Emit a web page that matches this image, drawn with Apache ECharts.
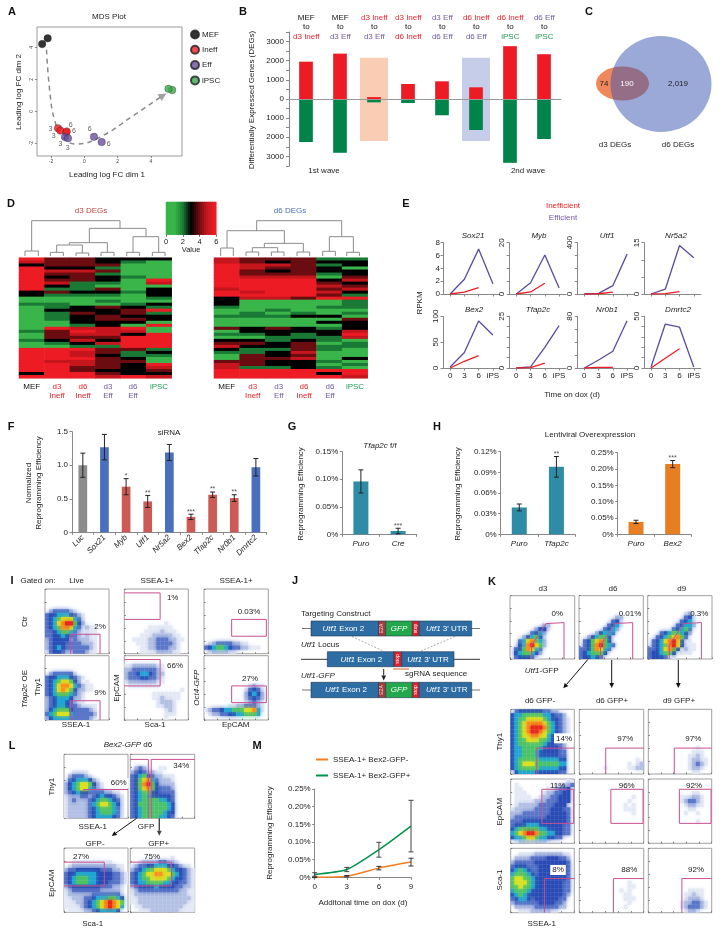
<!DOCTYPE html>
<html>
<head>
<meta charset="utf-8">
<title>Reprogramming figure</title>
<script src="https://cdn.jsdelivr.net/npm/echarts@6/dist/echarts.min.js"></script>
<style>html,body{margin:0;background:#fff}#main{width:721px;height:935px}</style>
</head>
<body>
<div id="main"></div>
<script>
// ---- A: MDS plot
var mdsMef = [[-2.53,4.2],[-2.2,4.56]];
var mdsIneff = [[-1.58,-1.07],[-1.44,-1.21],[-1.08,-1.32],[-1.06,-1.26]];
var mdsEff = [[-1.16,-1.61],[-0.98,-1.69],[0.58,-1.6],[1.04,-1.93]];
var mdsIpsc = [[5.27,1.33],[5.05,1.4]];
var mdsDayLabels = [[-2.04,-1.09,'3'],[-1.84,-1.55,'3'],[-1.44,-2.05,'3'],[-1.0,-2.32,'3'],[-0.82,-0.88,'6'],[-0.62,-1.25,'6'],[0.32,-1.11,'6'],[1.46,-2.05,'6']];
var mdsPath = [[-2.27,3.85],[-2.08,1.32],[-1.78,-0.56],[-1.24,-1.67],[-0.48,-2.05],[0.96,-1.61],[2.95,-0.26],[4.6,0.9]];

// ---- B: DEG counts
var degUp = [1950,2370,100,785,925,610,2760,2340];
var degDown = [-2250,-2810,-175,-210,-850,-1620,-3335,-2090];
var degHeadTop = ['MEF','MEF','d3 Ineff','d3 Ineff','d3 Eff','d6 Ineff','d6 Ineff','d6 Eff'];
var degHeadBottom = ['d3 Ineff','d3 Eff','d3 Eff','d6 Ineff','d6 Eff','d6 Eff','iPSC','iPSC'];
var degShadeUp = [null,null,2150,null,null,2150,null,null];
var degShadeDown = [null,null,-2190,null,null,-2190,null,null];

// ---- D: heat maps, one string per row, one digit (0-6) per sample
var heatSamplesLeft = ['MEF','d3 Ineff','d6 Ineff','d3 Eff','d6 Eff','iPSC'];
var heatSamplesRight = ['MEF','d3 Ineff','d3 Eff','d6 Ineff','d6 Eff','iPSC'];
var heatRowsLeft = ['644333','544321','344411','633211','655411','644211','634321','644316','652215','632111','622413','343323','322213','111112','111211','221123','123432','133346','124342','023433','023443','113331','112316','165561','246551','145536','144466','235366','123566','112266','666442','665423','665322','666431','655441','665436','664435','664334','366433','666565'];
var heatRowsRight = ['544422','543433','655423','654431','643433','644423','655514','666635','666643','666654','566645','656653','666642','355466','311112','311112','211122','112101','121212','222331','111114','011133','111113','434323','133335','223236','012225','332321','443412','533422','322421','223511','143411','144513','443321','543312','522321','666666','666636','666665'];
var colorbarValues = [0,0.25,0.5,0.75,1,1.25,1.5,1.75,2,2.25,2.5,2.75,3,3.25,3.5,3.75,4,4.25,4.5,4.75,5,5.25,5.5,5.75,6];
// dendrogram links, in units of the picture
var dendroLeft = [[[75,198],[75,183],[115,183],[115,198]],[[151,198],[151,187],[190,187],[190,198]],[[228,198],[228,189],[266,189],[266,198]],[[303,198],[303,187],[342,187],[342,198]],[[380,198],[380,187],[418,187],[418,198]],[[457,198],[457,187],[495,187],[495,198]],[[170,187],[170,165],[247,165],[247,189]],[[208,165],[208,158],[322,158],[322,187]],[[399,187],[399,140],[476,140],[476,187]],[[268,158],[268,115],[438,115],[438,140]],[[95,183],[95,92],[360,92],[360,115]]];
var dendroRight = [[[662,198],[662,174],[700,174],[700,198]],[[738,198],[738,186],[776,186],[776,198]],[[814,198],[814,186],[852,186],[852,198]],[[891,198],[891,186],[929,186],[929,198]],[[968,198],[968,184],[1006,184],[1006,198]],[[1040,198],[1040,187],[1078,187],[1078,198]],[[757,186],[757,173],[833,173],[833,186]],[[793,173],[793,160],[910,160],[910,186]],[[681,174],[681,122],[853,122],[853,160]],[[988,184],[988,140],[1060,140],[1060,187]],[[770,122],[770,92],[1025,92],[1025,140]]];

// ---- E: RPKM
var timeLabels = ['0','3','6','iPS'];
var geneNames = ['Sox21','Myb','Utf1','Nr5a2','Bex2','Tfap2c','Nr0b1','Dmrtc2'];
var geneMax = [8,20,400,15,100,25,80,50];
var geneStep = [2,5,100,5,50,5,20,10];
var geneShown = [[0,2,4,6,8],[0,20],[0,400],[0,15],[0,50,100],[0,25],[0,80],[0,50]];
var rpkmEff = [[0,2.3,7,1.6],[0,4.4,15.2,2.3],[0,5,65,311],[0,1.4,14.2,10.6],[2,30,91,64],[0,0.5,10,20.5],[0,12.4,26,73],[1,42.5,39.5,1]];
var rpkmIneff = [[0,0.3,1,null],[0,0.8,4.2,null],[0,2,15,null],[0,0.1,0.7,null],[0,13,24,null],[0,0.2,2.4,null],[0,1,1,null],[0,9.4,18.7,null]];

// ---- F, G, H: bars
var sirnaGenes = ['Luc','Sox21','Myb','Utf1','Nr5a2','Bex2','Tfap2c','Nr0b1','Dmrtc2'];
var sirnaValues = [1.0,1.27,0.68,0.46,1.19,0.23,0.56,0.51,0.97];
var sirnaErrors = [0.18,0.19,0.12,0.09,0.12,0.04,0.04,0.05,0.13];
var sirnaStars = ['','','*','**','','***','**','**',''];
var floxCats = ['Puro','Cre'];
var floxValues = [0.096,0.006];
var floxErrors = [0.021,0.005];
var floxStars = ['','***'];
var tfapCats = ['Puro','Tfap2c'];
var tfapValues = [0.039,0.098];
var tfapErrors = [0.005,0.015];
var tfapStars = ['','**'];
var bexCats = ['Puro','Bex2'];
var bexValues = [0.038,0.215];
var bexErrors = [0.005,0.011];
var bexStars = ['','***'];

// ---- M: time course
var doxDays = [0,3,6,9];
var bex2Neg = [0,0.003,0.026,0.043];
var bex2NegErr = [0.001,0.002,0.005,0.011];
var bex2Pos = [0.008,0.022,0.078,0.145];
var bex2PosErr = [0.005,0.006,0.021,0.073];

var flowCtrLive = ['','','','','','.2333321','3445554321','3456777531','3457899642','3456887531211','3345665321111','3344543321211','2344442322211','2344433332221','2345433333321','1344322333211'];
var flowOeLive = ['','','','','.2333331','3445554321','345677642.1','345788753211','345787642211','3456665321','2345554221','2345543211','2345543321111','2456664333321','3567775333332','2455553333321'];
var flowCtrSca = ['','','','','','','','','..........1','......111111','.....11112111','....1112222211','..1111223332211','...11122333321','....1122333221','....1111222211'];
var flowOeSca = ['','','1122222211','2233333321','2334554322','2333443321','1222222211','.11111111','..............1','.......1111111','.......1121111','........12221','........11221','..........121','..........111','..........1'];
var flowCtrOct = ['','','','','','','','','','','','','','.1233332211','34566543322111','.1222211'];
var flowOeOct = ['','','','','','','','...........1211','..........13431','..........24542','..........23432','..........12321','......112233321','123345566677851','.1223344556665'];

var flowD3 = ['','','','','','','','........22','......2441','.....3452','...245641','..3578652','..4589762','.3468753','.4566542','.344431'];
var flowD6 = ['','','','','','.........22','........341','.......3451','......3452','....24553','..245664','.3467864','.34689653','33468753','3456664','344543'];
var flowD9 = ['','','','','.........12','.........341','........3451','.......34552','......34563','...34566542','..34567863','.34578974.1','.34568974111','33457864.211','3445664.111','34443.1'];
var flowD6NegThy = ['.34444443322','45566666554332','456677776544321','456788887654321','456789998654321','456789987654321','456778877544321','45667776654332','45666666544332','45566665444432','45566654444433','45566654444433','45666665555544','45677766666655','45666665555544','.4555544444433'];
var flowD6NegEp = ['..............1','.1.........11223','.11......112334','.111....1223344','.1111..12233444','.11111222333444','.1222223333444','122222333344433','222333333344443','233333333444443','333444444444443','344455544444433','456666655444433','567899866554433','4556776554433','.122222221'];
var flowD6NegSca = ['','..1111222222211','.22223333444332','233333444444443','344433344444443','456543344444443','566654344444443','677665444444443','677765444444433','667665444444433','566654444444433','456544444444432','34554344444433','23333334444332','.2222233333322','..1112222211'];
var flowD6PosThy = ['','','','','','','','','','','','','..............1','............1.12','......1.....1122',''];
var flowD9PosThy = ['','','','','','','','','','............1','...........111','..........1121','..........12211','..........12321','..........1221','...........11'];
var flowD6PosEp = ['','','','','.............1','............1','...........1.1','...........111','.............1','','','','','','',''];
var flowD9PosEp = ['','','','...........11','........111221','........123321','.........12211','..........11','.........1..1','','............1','','','','',''];
var flowD6PosSca = ['','','','','','','','','............1','............11','..........1.1','...........11','...........111','............1','...........1',''];
var flowD9PosSca = ['','','','','','','','','','','..........1111','.........11211','.........12221','........1223321','........1233321','.........1221'];
var flowBexSsea = ['','','','','..1111','.233321','.34555421','2456776421','2456775321','23454433332211','122233234544321','123222345665431','122222356776541','122222345666531','122222345666531','122222345555431'];
var flowBexGfp = ['','','','.2321..11','23432211','34564322111','34678532221','34689642222','34678643332','34566443333','34565444443','34566665543','34666666654','34566666654','34566666544','34566665543'];
var flowNegEp = ['','','','..1111111111','.12222222222211','233444444333221','3445555544443321','3456665544443321','3456665544433321','234444444333221','123333333222221','122222233333331','112223345556654','111223456789876','111123456789875','.1111223455554'];
var flowPosEp = ['','','..........1','..1222233221','123344555443211','2345667776544321','3456778877654321','3456677776544321','3455666655443321','2344445444433221','1233333333332211','1222222222222211','1122222222222221','1122222222222211','.112222222222111','..11122222221111'];

var FONT = '"Liberation Sans"';
var RED = '#e8232a', PURPLE = '#6f5aa8', GREEN = '#1f9a55', GATE = '#c9508f', AXIS = '#888888';
var flowColors = ['#ffffff','#e4e9f5','#b4c1e4','#5d78c8','#2c4db5','#22a5d5','#4cc26a','#d9e021','#f7941d','#e6281f'];

var option = {animation:false, textStyle:{fontFamily:FONT}, grid:[], xAxis:[], yAxis:[], series:[], graphic:[], legend:[]};

function addGrid(x0, y0, x1, y1, xAx, yAx, extra) {
  var idx = option.grid.length;
  option.grid.push(Object.assign({left:x0, top:y0, width:x1-x0, height:y1-y0, containLabel:false, outerBoundsMode:'none'}, extra || {}));
  option.xAxis.push(Object.assign({gridIndex:idx}, xAx));
  option.yAxis.push(Object.assign({gridIndex:idx}, yAx));
  return idx;
}
function addSeries(g, s) {
  option.series.push(Object.assign({xAxisIndex:g, yAxisIndex:g, silent:true}, s));
}
function lineStyleAxis(w) { return {show:true, onZero:false, lineStyle:{color:AXIS, width:w || 1}}; }

// text helper, sizes in px
function T(x, y, text, o) {
  o = o || {};
  var size = o.size || 8;
  var st = {text:text, fill:o.color || '#222', fontSize:size, fontFamily:FONT, fontStyle:o.italic ? 'italic' : 'normal', fontWeight:o.bold ? 'bold' : 'normal', align:o.align || 'center', verticalAlign:'middle'};
  if (text.indexOf('{i|') >= 0) {
    st.rich = {i:{fontStyle:'italic', fontSize:size, fontFamily:FONT, fill:o.color || '#222', fontWeight:o.bold ? 'bold' : 'normal'}};
  }
  if (o.bg) { st.backgroundColor = o.bg; st.padding = [1,2]; }
  option.graphic.push({type:'text', x:x, y:y, rotation:o.rot ? Math.PI/2 : 0, z:100, silent:true, style:st});
}
function R(x0, y0, x1, y1, fill, stroke) {
  option.graphic.push({type:'rect', z:90, silent:true, shape:{x:x0, y:y0, width:x1-x0, height:y1-y0}, style:{fill:fill, stroke:stroke || null, lineWidth:stroke ? 0.6 : 0}});
}
function L(x0, y0, x1, y1, color, w, dash) {
  option.graphic.push({type:'line', z:85, silent:true, shape:{x1:x0, y1:y0, x2:x1, y2:y1}, style:{stroke:color, lineWidth:w || 1, lineDash:dash || null}});
}
function arrow(x0, y0, x1, y1, color, w) {
  var a = Math.atan2(y1-y0, x1-x0), h = 5, s = 2.4;
  var bx = x1 - h*Math.cos(a), by = y1 - h*Math.sin(a);
  L(x0, y0, bx, by, color, w || 1);
  option.graphic.push({type:'polygon', z:86, silent:true, shape:{points:[[x1,y1],[bx+s*Math.sin(a),by-s*Math.cos(a)],[bx-s*Math.sin(a),by+s*Math.cos(a)]]}, style:{fill:color}});
}

// panel letters
[['A',12,12],['B',243,12],['C',589,12],['D',11,204],['E',406,204],['F',11,427],['G',292,427],['H',437,427],['I',12,581],['J',295,581],['K',492,582],['L',12,746],['M',257,746]].forEach(function (p) {
  T(p[1], p[2], p[0], {size:11, bold:true, color:'#111'});
});

// ===== A
(function () {
  var g = addGrid(37, 27, 182, 156,
    {type:'value', min:-2.84, max:5.86, axisLine:{show:false, onZero:false}, splitLine:{show:false},
      axisTick:{show:true, length:2, lineStyle:{color:AXIS}, customValues:[-2,0,2,4]},
      axisLabel:{fontSize:5, color:'#444', margin:3, customValues:[-2,0,2,4]}},
    {type:'value', min:-2.8, max:5.27, axisLine:{show:false, onZero:false}, splitLine:{show:false},
      axisTick:{show:true, length:2, lineStyle:{color:AXIS}, customValues:[-2,0,2,4]},
      axisLabel:{fontSize:5, color:'#444', margin:3, rotate:90, customValues:[-2,0,2,4]}},
    {show:true, borderColor:'#9a9a9a', borderWidth:1});
  addSeries(g, {type:'line', data:mdsPath, smooth:0.45, symbol:'none', z:1, clip:false, lineStyle:{color:'#8a8a8a', width:1.5, type:[5,4]}});
  addSeries(g, {type:'scatter', data:[[4.72,0.98]], symbol:'triangle', symbolSize:[8,8], symbolRotate:-58, z:1, itemStyle:{color:'#8a8a8a'}});
  var pts = [['MEF',mdsMef,'#000000'],['Ineff',mdsIneff,'#ed1c24'],['Eff',mdsEff,'#6b4fa0'],['iPSC',mdsIpsc,'#3aa84a']];
  pts.forEach(function (s) {
    addSeries(g, {type:'scatter', name:s[0], data:s[1], symbolSize:7.5, z:3, itemStyle:{color:s[2], borderColor:'#222', borderWidth:0.4}});
  });
  addSeries(g, {type:'scatter', data:mdsDayLabels, symbolSize:0, z:4, label:{show:true, position:'inside', fontSize:7, color:'#333', formatter:function (p) { return p.data[2]; }}});
  option.legend.push({data:pts.map(function (s) { return {name:s[0], icon:'circle'}; }), orient:'vertical', left:190, top:29.5, padding:0, itemWidth:8, itemHeight:8, itemGap:5.3, textStyle:{fontSize:8, color:'#222', padding:[0,0,0,-2]}, selectedMode:false});
  T(109, 17, 'MDS Plot', {size:8});
  T(107, 175, 'Leading log FC dim 1', {size:8});
  T(19, 92, 'Leading log FC dim 2', {size:8, rot:true});
})();

// ===== B
(function () {
  var cats = degUp.map(function (v, i) { return i; });
  var g0 = addGrid(289, 32, 561, 166, {type:'category', data:cats, show:false}, {type:'value', min:-3500, max:3500, show:false});
  addSeries(g0, {type:'bar', data:degShadeUp, barWidth:28, stack:'s', z:1, itemStyle:{color:function (p) { return p.dataIndex === 2 ? '#f9cdb4' : '#c5cde8'; }}});
  addSeries(g0, {type:'bar', data:degShadeDown, barWidth:28, stack:'s', z:1, itemStyle:{color:function (p) { return p.dataIndex === 2 ? '#f9cdb4' : '#c5cde8'; }}});
  var g = addGrid(289, 32, 561, 166,
    {type:'category', data:cats, axisLabel:{show:false}, axisTick:{show:false}, axisLine:{show:true, onZero:true, lineStyle:{color:'#999', width:1}}, z:5},
    {type:'value', min:-3500, max:3500, interval:500, splitLine:{show:false}, axisLine:lineStyleAxis(),
      axisTick:{show:true, length:3, lineStyle:{color:AXIS}},
      axisLabel:{fontSize:8, color:'#222', margin:5, formatter:function (v) { return v % 1000 === 0 ? String(Math.abs(v)) : ''; }}});
  addSeries(g, {type:'bar', data:degUp, barWidth:13.7, stack:'d', itemStyle:{color:'#ed1c24'}});
  addSeries(g, {type:'bar', data:degDown, barWidth:13.7, stack:'d', itemStyle:{color:'#00844a'}});
  function headColor(s) { return s === 'MEF' ? '#111' : s.indexOf('Ineff') > 0 ? RED : s.indexOf('Eff') > 0 ? PURPLE : GREEN; }
  degHeadTop.forEach(function (s, i) {
    var x = 306.3 + i*34;
    T(x, 17.7, s, {color:headColor(s)});
    T(x, 27, 'to', {color:'#111'});
    T(x, 36.7, degHeadBottom[i], {color:headColor(degHeadBottom[i])});
  });
  T(252, 100, 'Differentially Expressed Genes (DEGs)', {rot:true});
  T(324, 171, '1st wave');
  T(528, 171, '2nd wave');
})();

// ===== C
(function () {
  var g = addGrid(590, 30, 715, 140, {type:'value', min:0, max:125, show:false}, {type:'value', min:0, max:110, show:false});
  addSeries(g, {type:'scatter', data:[[32.5,56.5,53,34]], symbolSize:function (v) { return [v[2],v[3]]; }, z:1, clip:false, itemStyle:{color:'#f0875a', opacity:1}});
  addSeries(g, {type:'scatter', data:[[71,56,101,96]], symbolSize:function (v) { return [v[2],v[3]]; }, z:2, clip:false, itemStyle:{color:'rgb(55,83,177)', opacity:0.5}});
  T(604, 84, '74', {color:'#222'});
  T(627, 84, '190', {color:'#fff'});
  T(678, 84, '2,019', {color:'#222'});
  T(615, 145, 'd3 DEGs');
  T(678, 145, 'd6 DEGs');
})();

// ===== D
var heatSeriesIdx = [];
function heatPanel(x0, y0, x1, y1, rows) {
  var rowCats = rows.map(function (r, i) { return i; });
  var g = addGrid(x0, y0, x1, y1, {type:'category', data:[0,1,2,3,4,5], show:false}, {type:'category', data:rowCats, inverse:true, show:false});
  var data = [];
  rows.forEach(function (r, j) { for (var c = 0; c < 6; c++) data.push([c, j, +r[c]]); });
  heatSeriesIdx.push(option.series.length);
  addSeries(g, {type:'heatmap', data:data, itemStyle:{borderWidth:0}});
}
function dendro(x0, y0, x1, y1, xMin, xMax, links) {
  var g = addGrid(x0, y0, x1, y1, {type:'value', min:xMin, max:xMax, show:false}, {type:'value', min:92, max:198, inverse:true, show:false});
  links.forEach(function (l) {
    addSeries(g, {type:'line', data:l, symbol:'none', clip:false, lineStyle:{color:'#8c8c8c', width:1}});
  });
}
heatPanel(19, 257.7, 171.7, 378.3, heatRowsLeft);
heatPanel(214, 257.7, 367.7, 378.3, heatRowsRight);
dendro(19, 220.7, 171.7, 256, 57, 515, dendroLeft);
dendro(214, 220.7, 367.7, 256, 642, 1103, dendroRight);
(function () {
  var g = addGrid(166, 202, 216.3, 234.7, {type:'category', data:colorbarValues, show:false}, {type:'category', data:[0], show:false});
  heatSeriesIdx.push(option.series.length);
  addSeries(g, {type:'heatmap', data:colorbarValues.map(function (v, i) { return [i, 0, v]; }), itemStyle:{borderWidth:0}});
  addGrid(166, 202, 216.3, 234.7, {type:'value', min:0, max:6, interval:2, splitLine:{show:false}, axisLine:{show:false}, axisTick:{show:true, length:2, lineStyle:{color:'#666'}}, axisLabel:{fontSize:7.5, color:'#222', margin:3}}, {type:'value', min:0, max:1, show:false});
  T(191, 250, 'Value', {size:7.5});
  T(91, 210.5, 'd3 DEGs', {color:'#b5423f'});
  T(290, 210.5, 'd6 DEGs', {color:'#4a6fb5'});
  function sampleLabels(xs, names) {
    xs.forEach(function (x, i) {
      var n = names[i];
      if (n === 'MEF' || n === 'iPSC') {
        T(x, 386.7, n, {color:n === 'MEF' ? '#111' : GREEN});
      } else {
        var parts = n.split(' '), c = parts[1] === 'Ineff' ? RED : PURPLE;
        T(x, 386.7, parts[0], {color:c});
        T(x, 396, parts[1], {color:c});
      }
    });
  }
  sampleLabels([31.7,57,83,108,133,159], heatSamplesLeft);
  sampleLabels([226.7,252.7,278.7,304,330,355], heatSamplesRight);
})();
option.visualMap = {show:false, type:'continuous', min:0, max:6, seriesIndex:heatSeriesIdx, inRange:{color:['#39b54a','#39b54a','#1a7a35','#000000','#6a0c10','#c5161d','#ed1c24']}};

// ===== E
(function () {
  var lefts = [443,509.2,577.2,643.9];
  var titleX = [473,539,607,676,474,538,607,678];
  geneNames.forEach(function (name, i) {
    var row = i < 4 ? 0 : 1, col = i % 4;
    var y0 = row ? 316.3 : 242.7, y1 = row ? 368 : 294;
    var shown = geneShown[i];
    var g = addGrid(lefts[col], y0, lefts[col] + 57, y1,
      {type:'category', data:timeLabels, axisLine:lineStyleAxis(), axisTick:{show:true, alignWithLabel:true, length:2.5, lineStyle:{color:AXIS}},
        axisLabel:{show:row === 1, fontSize:8, color:'#222', margin:4, interval:0}},
      {type:'value', min:0, max:geneMax[i], interval:geneStep[i], splitLine:{show:false}, axisLine:lineStyleAxis(),
        axisTick:{show:true, length:2.5, lineStyle:{color:AXIS}},
        axisLabel:{fontSize:8, color:'#222', margin:3, rotate:i === 0 ? 0 : 90, formatter:function (v) { return shown.indexOf(v) >= 0 ? String(v) : ''; }}});
    addSeries(g, {type:'line', data:rpkmEff[i], symbol:'none', z:2, lineStyle:{color:'#5b4a9e', width:1.3}});
    addSeries(g, {type:'line', data:rpkmIneff[i], symbol:'none', z:3, lineStyle:{color:'#ed1c24', width:1.3}});
    T(titleX[i], row ? 310 : 235.7, name, {italic:true});
  });
  T(563, 205.5, 'Inefficient', {color:RED});
  T(563, 218, 'Efficient', {color:PURPLE});
  T(420, 303, 'RPKM', {rot:true});
  T(572, 395, 'Time on dox (d)');
})();

// ===== F, G, H
function errorSeries(g, xs, vals, errs, cap, color) {
  addSeries(g, {type:'custom', z:5, data:vals.map(function (v, i) { return [xs[i], v - errs[i], v + errs[i]]; }), encode:{x:0, y:[1,2]}, clip:false,
    renderItem:function (p, api) {
      var a = api.coord([api.value(0), api.value(1)]), b = api.coord([api.value(0), api.value(2)]);
      var st = {stroke:color || '#222', lineWidth:1};
      return {type:'group', children:[
        {type:'line', shape:{x1:a[0], y1:a[1], x2:b[0], y2:b[1]}, style:st},
        {type:'line', shape:{x1:a[0]-cap, y1:a[1], x2:a[0]+cap, y2:a[1]}, style:st},
        {type:'line', shape:{x1:b[0]-cap, y1:b[1], x2:b[0]+cap, y2:b[1]}, style:st}]};
    }});
}
function pct(v) { return v === 0 ? '0%' : v.toFixed(2) + '%'; }
function barPanel(x0, y0, x1, y1, cats, vals, errs, stars, colors, yMax, step, fmt, barW, catOpts) {
  var g = addGrid(x0, y0, x1, y1,
    {type:'category', data:cats, axisLine:lineStyleAxis(), axisTick:{show:true, length:2.5, lineStyle:{color:AXIS}},
      axisLabel:Object.assign({fontSize:8, color:'#222', fontStyle:'italic', interval:0, margin:5}, catOpts || {})},
    {type:'value', min:0, max:yMax, interval:step, splitLine:{show:false}, axisLine:lineStyleAxis(), axisTick:{show:true, length:2.5, lineStyle:{color:AXIS}},
      axisLabel:{fontSize:8, color:'#222', margin:4, formatter:fmt}});
  addSeries(g, {type:'bar', data:vals, barWidth:barW, itemStyle:{color:function (p) { return colors[p.dataIndex]; }}});
  errorSeries(g, cats.map(function (c, i) { return i; }), vals, errs, 2.5);
  addSeries(g, {type:'scatter', symbolSize:0, z:6, data:vals.map(function (v, i) { return {value:[i, v + errs[i]], name:stars[i]}; }),
    label:{show:true, position:'top', distance:-1, fontSize:7, color:'#222', formatter:'{b}'}});
}
var GRAY = '#8c8c8c', BLUE = '#4a6fbf', BRICK = '#cd5b55', TEAL = '#2e8ca6', ORANGE = '#e87e22';
barPanel(72, 431.7, 266.7, 532.3, sirnaGenes, sirnaValues, sirnaErrors, sirnaStars,
  [GRAY,BLUE,BRICK,BRICK,BLUE,BRICK,BRICK,BRICK,BLUE], 1.5, 0.5,
  function (v) { return v === 0 ? '0' : v.toFixed(1); }, 8.7, {rotate:45, margin:4});
T(29, 483, 'Normalized', {rot:true});
T(38.5, 483, 'Reprogramming Efficiency', {rot:true});
T(169, 433, 'siRNA');
barPanel(342.3, 451.7, 416.7, 534.3, floxCats, floxValues, floxErrors, floxStars, [TEAL,TEAL], 0.15, 0.05, pct, 15);
T(301, 494, 'Reprogramming Efficiency', {rot:true});
T(380, 445.7, '{i|Tfap2c} f/f');
barPanel(500.7, 451.7, 575, 534.3, tfapCats, tfapValues, tfapErrors, tfapStars, [TEAL,TEAL], 0.12, 0.03, pct, 15);
T(458, 494, 'Reprogramming Efficiency', {rot:true});
barPanel(617.7, 452.7, 691, 534.3, bexCats, bexValues, bexErrors, bexStars, [ORANGE,ORANGE], 0.25, 0.05, pct, 15);
T(590, 435, 'Lentiviral Overexpression');

// ===== flow plots
function flowPlot(x0, y0, x1, y1, rows, gates) {
  var g = addGrid(x0, y0, x1, y1,
    {type:'value', min:0, max:100, interval:20, splitLine:{show:false}, axisLine:{show:false}, axisLabel:{show:false}, axisTick:{show:true, inside:true, length:1.5, lineStyle:{color:'#777'}}},
    {type:'value', min:0, max:100, interval:20, splitLine:{show:false}, axisLine:{show:false}, axisLabel:{show:false}, axisTick:{show:true, inside:true, length:1.5, lineStyle:{color:'#777'}}},
    {show:true, borderColor:'#a0a0a0', borderWidth:1});
  var cells = [];
  rows.forEach(function (r, j) {
    for (var c = 0; c < r.length; c++) {
      var v = parseInt(r[c], 10);
      if (v > 0) cells.push([c, j, v]);
    }
  });
  // dense levels last, so they soften over the thin ones
  cells.sort(function (a, b) { return a[2] - b[2]; });
  addSeries(g, {type:'custom', z:1, clip:true, data:cells, encode:{x:0, y:1},
    renderItem:function (p, api) {
      var c = api.value(0), j = api.value(1), step = 100/16, col = flowColors[api.value(2)];
      var a = api.coord([c*step, 100 - j*step]), b = api.coord([(c+1)*step, 100 - (j+1)*step]);
      return {type:'rect', shape:{x:a[0], y:a[1], width:b[0]-a[0], height:b[1]-a[1]}, style:{fill:col, shadowBlur:4, shadowColor:col}};
    }});
  (gates || []).forEach(function (l) {
    addSeries(g, {type:'line', data:l, symbol:'none', z:3, clip:false, lineStyle:{color:GATE, width:1}});
  });
}

// ----- I
var iCol = [[45,109],[124.3,188.3],[204,268.3]], iRow = [[589,653.7],[655.7,720]];
function iPlot(c, r, m, g) { flowPlot(iCol[c][0], iRow[r][0], iCol[c][1], iRow[r][1], m, g); }
var gateLive = [[[40,0],[40,30],[86,30],[86,0]]];
var gateSca = [[[0,94],[56,94],[56,53],[0,53]]];
var gateOct = [[[43,53],[97,53],[97,27],[43,27],[43,53]]];
iPlot(0, 0, flowCtrLive, gateLive);
iPlot(0, 1, flowOeLive, gateLive);
iPlot(1, 0, flowCtrSca, gateSca);
iPlot(1, 1, flowOeSca, gateSca);
iPlot(2, 0, flowCtrOct, gateOct);
iPlot(2, 1, flowOeOct, gateOct);
T(38, 581, 'Gated on:');
T(76.7, 581, 'Live');
T(157, 581, 'SSEA-1+');
T(236, 581, 'SSEA-1+');
T(25, 621.7, 'Ctr', {rot:true});
T(25, 689, '{i|Tfap2c} OE', {rot:true});
T(37.3, 687, 'Thy1', {rot:true});
T(76, 725, 'SSEA-1');
T(116.7, 688, 'EpCAM', {rot:true});
T(155, 725, 'Sca-1');
T(196.7, 687.7, '{i|Oct4-GFP}', {rot:true});
T(235.7, 725, 'EpCAM');
T(100, 626.7, '2%'); T(100, 693, '9%'); T(172.7, 598, '1%'); T(175, 665.3, '66%'); T(249, 611.3, '0.03%'); T(250, 678.3, '27%');

// ----- J
(function () {
  var BL = '#2e6da4', ST = '#d8232a', E2 = '#a83a3a', GF = '#22a84a', EDGE = '#1c3550';
  function fullConstruct(yT, yB, exonX) {
    R(311, yT, 378.5, yB, BL, EDGE);
    R(378.5, yT, 385.7, yB, E2, EDGE);
    R(385.7, yT, 412.3, yB, GF, EDGE);
    R(412.3, yT, 419.3, yB, ST, EDGE);
    R(419.3, yT, 471.7, yB, BL, EDGE);
    var yc = (yT + yB)/2;
    T(exonX, yc, '{i|Utf1} Exon 2', {color:'#fff', size:8});
    T(382, yc, 'E2A', {color:'#f6dede', size:5, rot:true});
    T(399, yc, 'GFP', {color:'#fff', italic:true, size:8});
    T(416, yc, 'stop', {color:'#fff', size:5, rot:true});
    T(446.7, yc, "{i|Utf1} 3' UTR", {color:'#fff', size:8});
  }
  L(302, 628.5, 480, 628.5, '#777', 1);
  fullConstruct(621, 636, 343.3);
  L(301, 659.3, 480, 659.3, '#333', 1);
  R(327.3, 651.7, 394, 666.7, BL, EDGE);
  R(394, 651.7, 401.7, 666.7, ST, EDGE);
  R(401.7, 651.7, 454, 666.7, BL, EDGE);
  T(361.3, 659.5, '{i|Utf1} Exon 2', {color:'#fff', size:8});
  T(397.8, 659, 'stop', {color:'#fff', size:5, rot:true});
  T(428, 659.5, "{i|Utf1} 3' UTR", {color:'#fff', size:8});
  L(302, 690, 480, 690, '#777', 1);
  fullConstruct(682.3, 697.7, 346);
  L(352, 636.5, 383, 651, '#999', 0.8, [2,1.5]);
  L(455, 636.5, 421, 651, '#999', 0.8, [2,1.5]);
  L(393.3, 669, 409, 669, '#d8622a', 1);
  arrow(383.7, 669, 383.7, 680.5, '#222', 1);
  T(301, 614, 'Targeting Construct', {align:'left'});
  T(301, 645, '{i|Utf1} Locus', {align:'left'});
  T(301, 675.7, '{i|Utf1-GFP}', {align:'left'});
  T(405, 673.5, 'sgRNA sequence', {align:'left'});
})();

// ----- K
var gateUtf = [[[33.5,0],[33.5,22],[56,56],[83.5,57.5],[83.5,0]]];
flowPlot(510, 595.7, 574.7, 659, flowD3, gateUtf);
flowPlot(579, 595.7, 643.3, 659, flowD6, gateUtf);
flowPlot(647.7, 595.7, 712, 659, flowD9, gateUtf);
var kCols = [[510.7,574.3],[579.3,643.7],[648.3,711.7]], kRows = [[709.3,774],[779,843.3],[848.3,912.7]];
var gateKThy = [[[41,0],[41,40],[100,40]]];
var gateKEp = [[[49,31],[49,84],[99,84],[99,31],[49,31]]];
var gateKSca = [[[53,0],[53,53],[100,53]]];
var kMatrix = [[flowD6NegThy,flowD6PosThy,flowD9PosThy],[flowD6NegEp,flowD6PosEp,flowD9PosEp],[flowD6NegSca,flowD6PosSca,flowD9PosSca]];
var kGates = [gateKThy,gateKEp,gateKSca];
kMatrix.forEach(function (row, r) {
  row.forEach(function (m, c) { flowPlot(kCols[c][0], kRows[r][0], kCols[c][1], kRows[r][1], m, kGates[r]); });
});
T(543, 588.3, 'd3'); T(613, 588.3, 'd6'); T(681.7, 588.3, 'd9');
T(557.3, 613.3, '0%'); T(630, 613.3, '0.01%'); T(699.3, 613.3, '0.3%');
T(541.7, 670.3, '{i|Utf1}-GFP');
T(540, 701, 'd6 GFP-'); T(612, 701, 'd6 GFP+'); T(679, 701, 'd9 GFP+');
arrow(588, 659.3, 563.3, 688.3, '#111', 1);
arrow(611.7, 660, 611.7, 688, '#111', 1);
arrow(678.3, 660, 678.3, 688, '#111', 1);
T(500, 741.7, 'Thy1', {rot:true});
T(500, 811.7, 'EpCAM', {rot:true});
T(500, 880, 'Sca-1', {rot:true});
T(541.7, 923.3, 'SSEA-1');
T(564, 738.3, '14%', {bg:'#fff'}); T(625.3, 738.3, '97%'); T(693.3, 738.3, '97%');
T(557.7, 785.3, '11%'); T(626.7, 785.3, '96%'); T(694, 785.3, '92%');
T(558, 870, '8%', {bg:'#fff'}); T(629.3, 870, '88%'); T(696, 870, '92%');

// ----- L
flowPlot(64, 754.3, 128, 818.3, flowBexSsea, [[[30,45],[100,45]]]);
flowPlot(130.3, 754.3, 194.7, 818.3, flowBexGfp, [[[0,92],[28,92],[28,0]],[[32.5,0],[32.5,92],[100,92]]]);
flowPlot(64, 848, 128, 912.3, flowNegEp, [[[0,78],[63,78],[63,41],[0,41]]]);
flowPlot(130.3, 848, 194.7, 912.3, flowPosEp, [[[0,78],[64,78],[64,41],[0,41]]]);
T(128, 745, '{i|Bex2-GFP} d6');
T(51.7, 786.7, 'Thy1', {rot:true});
T(92.7, 826.3, 'SSEA-1');
T(146, 826.3, 'GFP');
T(95, 843.7, 'GFP-');
T(158.7, 843.7, 'GFP+');
T(51.7, 883.3, 'EpCAM', {rot:true});
T(92.7, 923.3, 'Sca-1');
T(118.7, 783, '60%', {bg:'#fff'}); T(181.3, 766, '34%'); T(81, 856.3, '27%'); T(152, 856.3, '75%');
arrow(136.7, 818.3, 111.7, 836, '#111', 1);
arrow(159.3, 818.3, 159.3, 835.7, '#444', 1.4);

// ===== M
(function () {
  var g = addGrid(314.7, 789, 411, 877.3,
    {type:'value', min:0, max:9, interval:3, splitLine:{show:false}, axisLine:lineStyleAxis(), axisTick:{show:true, length:2.5, lineStyle:{color:AXIS}}, axisLabel:{fontSize:8, color:'#222', margin:5}},
    {type:'value', min:0, max:0.25, interval:0.05, splitLine:{show:false}, axisLine:lineStyleAxis(), axisTick:{show:true, length:2.5, lineStyle:{color:AXIS}}, axisLabel:{fontSize:8, color:'#222', margin:4, formatter:pct}});
  errorSeries(g, doxDays, bex2Neg, bex2NegErr, 2.5, '#333');
  errorSeries(g, doxDays, bex2Pos, bex2PosErr, 2.5, '#444');
  function pts(v) { return doxDays.map(function (d, i) { return [d, v[i]]; }); }
  addSeries(g, {type:'line', name:'SSEA-1+ Bex2-GFP-', data:pts(bex2Neg), smooth:0.2, symbol:'none', z:3, lineStyle:{color:'#f47b20', width:1.5}, itemStyle:{color:'#f47b20'}});
  addSeries(g, {type:'line', name:'SSEA-1+ Bex2-GFP+', data:pts(bex2Pos), smooth:0.2, symbol:'none', z:3, lineStyle:{color:'#00934b', width:1.5}, itemStyle:{color:'#00934b'}});
  option.legend.push({data:['SSEA-1+ Bex2-GFP-','SSEA-1+ Bex2-GFP+'], orient:'vertical', left:316, top:755.5, padding:0, itemWidth:12, itemHeight:2, itemGap:8, icon:'rect', textStyle:{fontSize:8, color:'#222'}, selectedMode:false});
  T(269.3, 833, 'Reprogramming Efficiency', {rot:true});
  T(363, 903, 'Additonal time on dox (d)');
})();

var chart = echarts.init(document.getElementById('main'), null, {renderer:'canvas'});
chart.setOption(option);
</script>
</body>
</html>
